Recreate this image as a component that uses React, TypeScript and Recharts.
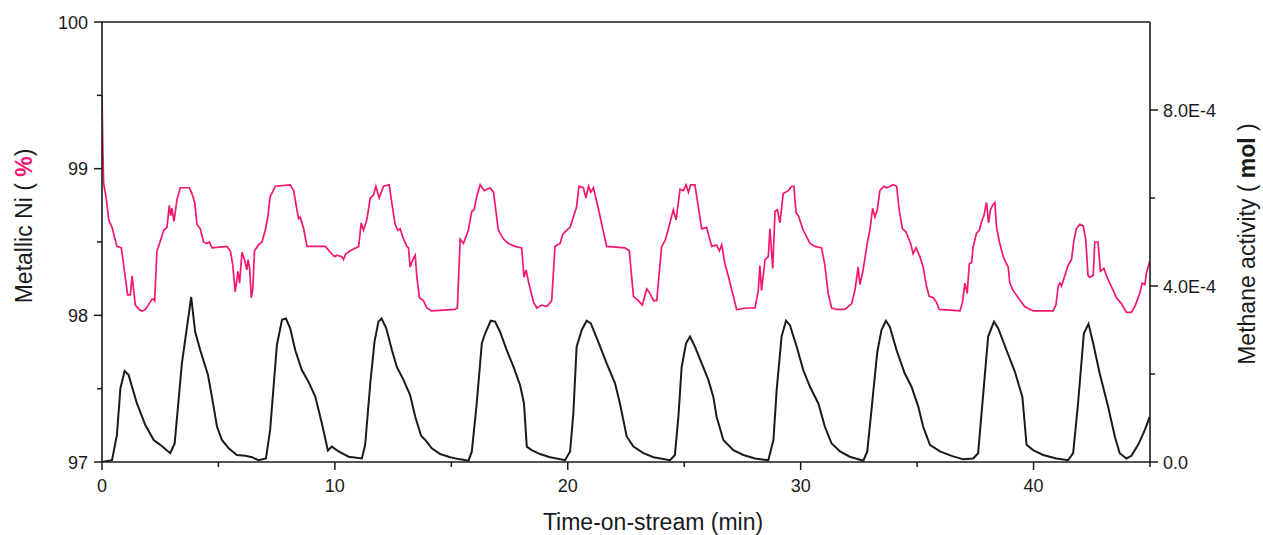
import React from 'react';
import { LineChart, Line, XAxis, YAxis, ReferenceLine } from 'recharts';

// metallic Ni fraction (%) vs time-on-stream (min)
const niTime = [
  0, 0.04, 0.07, 0.18, 0.29, 0.43, 0.64, 0.83, 1.0, 1.1, 1.22, 1.29, 1.34, 1.43, 1.6, 1.72, 1.86, 2.07, 2.15, 2.22,
  2.26, 2.36, 2.43, 2.65, 2.79, 2.89, 2.95, 3.0, 3.09, 3.22, 3.36, 3.75, 3.86, 3.98, 4.08, 4.22, 4.36, 4.5, 4.61, 4.72,
  5.36, 5.51, 5.61, 5.72, 5.84, 5.91, 6.01, 6.12, 6.22, 6.27, 6.34, 6.41, 6.47, 6.55, 6.72, 6.87, 7.01, 7.12, 7.22, 7.32,
  7.44, 8.08, 8.23, 8.37, 8.44, 8.51, 8.66, 8.8, 9.59, 9.8, 9.99, 10.09, 10.3, 10.37, 10.47, 10.66, 11.02, 11.13, 11.23, 11.37,
  11.52, 11.66, 11.76, 11.9, 12.09, 12.33, 12.47, 12.59, 12.7, 12.8, 12.95, 13.09, 13.16, 13.23, 13.35, 13.45, 13.52, 13.63, 13.8, 13.95,
  14.16, 15.16, 15.26, 15.38, 15.52, 15.73, 15.88, 15.98, 16.09, 16.24, 16.41, 16.66, 16.81, 17.02, 17.24, 17.45, 17.74, 18.02, 18.12, 18.21,
  18.31, 18.53, 18.67, 18.88, 19.1, 19.31, 19.45, 19.67, 19.78, 19.88, 20.1, 20.24, 20.38, 20.48, 20.67, 20.78, 20.89, 20.99, 21.1, 21.31,
  21.5, 21.67, 22.46, 22.64, 22.82, 23.03, 23.2, 23.39, 23.53, 23.68, 23.82, 24.03, 24.18, 24.32, 24.53, 24.65, 24.82, 24.96, 25.08, 25.18,
  25.28, 25.46, 25.75, 25.96, 26.18, 26.39, 26.51, 26.61, 26.75, 26.89, 27.11, 27.25, 27.68, 28.04, 28.18, 28.25, 28.32, 28.47, 28.61, 28.68,
  28.8, 28.9, 29.0, 29.11, 29.25, 29.47, 29.61, 29.71, 29.8, 29.9, 30.11, 30.4, 30.61, 30.9, 31.04, 31.18, 31.33, 31.54, 31.9, 32.04,
  32.19, 32.33, 32.47, 32.54, 32.66, 32.86, 32.97, 33.09, 33.19, 33.29, 33.4, 33.57, 33.7, 33.97, 34.12, 34.23, 34.37, 34.52, 34.72, 34.83,
  34.95, 35.12, 35.26, 35.4, 35.52, 35.69, 35.83, 35.95, 36.84, 36.95, 37.05, 37.15, 37.24, 37.34, 37.41, 37.55, 37.67, 37.77, 37.87, 37.98,
  38.07, 38.15, 38.24, 38.34, 38.41, 38.55, 38.7, 38.84, 38.91, 38.98, 39.12, 39.34, 39.62, 39.98, 40.84, 40.96, 41.06, 41.13, 41.2, 41.34,
  41.48, 41.63, 41.73, 41.84, 41.99, 42.13, 42.24, 42.34, 42.41, 42.56, 42.63, 42.77, 42.87, 43.02, 43.13, 43.27, 43.42, 43.56, 43.77, 43.99,
  44.2, 44.35, 44.56, 44.67, 44.78, 44.85, 44.99,
];
const niPct = [
  99.5, 99.1, 98.9, 98.8, 98.65, 98.6, 98.47, 98.46, 98.26, 98.14, 98.14, 98.27, 98.2, 98.07, 98.04, 98.03, 98.04, 98.09, 98.11, 98.11,
  98.1, 98.44, 98.47, 98.58, 98.6, 98.75, 98.68, 98.73, 98.64, 98.79, 98.87, 98.87, 98.83, 98.77, 98.62, 98.59, 98.5, 98.49, 98.5, 98.46,
  98.47, 98.44, 98.35, 98.16, 98.3, 98.22, 98.43, 98.38, 98.31, 98.38, 98.32, 98.12, 98.17, 98.44, 98.48, 98.5, 98.58, 98.67, 98.81, 98.84,
  98.88, 98.89, 98.85, 98.72, 98.66, 98.67, 98.59, 98.47, 98.47, 98.43, 98.4, 98.41, 98.4, 98.38, 98.42, 98.44, 98.47, 98.63, 98.58, 98.65,
  98.8, 98.82, 98.88, 98.8, 98.88, 98.89, 98.74, 98.62, 98.58, 98.59, 98.52, 98.47, 98.46, 98.33, 98.38, 98.41, 98.26, 98.12, 98.1, 98.05,
  98.03, 98.04, 98.05, 98.52, 98.49, 98.58, 98.71, 98.72, 98.81, 98.89, 98.85, 98.87, 98.84, 98.58, 98.52, 98.49, 98.47, 98.46, 98.26, 98.31,
  98.23, 98.09, 98.05, 98.07, 98.06, 98.1, 98.47, 98.49, 98.55, 98.57, 98.6, 98.67, 98.74, 98.88, 98.87, 98.8, 98.88, 98.84, 98.87, 98.73,
  98.59, 98.47, 98.46, 98.44, 98.13, 98.1, 98.07, 98.18, 98.15, 98.1, 98.1, 98.47, 98.51, 98.59, 98.72, 98.65, 98.86, 98.85, 98.89, 98.84,
  98.89, 98.89, 98.59, 98.6, 98.47, 98.48, 98.44, 98.48, 98.35, 98.27, 98.13, 98.04, 98.05, 98.05, 98.17, 98.34, 98.17, 98.38, 98.4, 98.59,
  98.32, 98.71, 98.72, 98.63, 98.83, 98.85, 98.88, 98.88, 98.7, 98.68, 98.58, 98.49, 98.47, 98.46, 98.34, 98.15, 98.05, 98.04, 98.04, 98.06,
  98.08, 98.17, 98.33, 98.21, 98.29, 98.49, 98.58, 98.73, 98.67, 98.72, 98.85, 98.88, 98.87, 98.89, 98.88, 98.72, 98.59, 98.57, 98.49, 98.42,
  98.46, 98.4, 98.33, 98.2, 98.13, 98.12, 98.09, 98.04, 98.03, 98.09, 98.22, 98.15, 98.35, 98.36, 98.47, 98.56, 98.58, 98.64, 98.68, 98.77,
  98.63, 98.72, 98.75, 98.77, 98.6, 98.49, 98.4, 98.35, 98.33, 98.22, 98.17, 98.12, 98.06, 98.03, 98.03, 98.07, 98.2, 98.22, 98.2, 98.27,
  98.34, 98.38, 98.51, 98.59, 98.62, 98.61, 98.52, 98.27, 98.26, 98.27, 98.5, 98.5, 98.3, 98.32, 98.27, 98.22, 98.17, 98.12, 98.08, 98.02,
  98.02, 98.06, 98.15, 98.22, 98.21, 98.29, 98.37,
];

// methane activity, in units of 1E-4 mol
const ch4Time = [
  0, 0.43, 0.64, 0.79, 0.97, 1.14, 1.5, 1.86, 2.22, 2.5, 2.93, 3.12, 3.43, 3.65, 3.83, 4.0, 4.22, 4.55, 4.72, 4.94,
  5.15, 5.44, 5.79, 6.15, 6.44, 6.72, 7.04, 7.22, 7.51, 7.73, 7.9, 8.08, 8.3, 8.58, 8.87, 9.16, 9.44, 9.7, 9.87, 10.16,
  10.59, 11.16, 11.3, 11.52, 11.7, 11.87, 12.0, 12.2, 12.45, 12.66, 12.95, 13.23, 13.45, 13.7, 13.88, 14.16, 14.52, 14.95, 15.38, 15.74,
  15.88, 16.09, 16.31, 16.45, 16.69, 16.88, 17.09, 17.38, 17.67, 17.95, 18.12, 18.24, 18.45, 18.81, 19.24, 19.88, 20.1, 20.24, 20.38, 20.6,
  20.81, 20.99, 21.31, 21.67, 22.03, 22.24, 22.53, 22.82, 23.25, 23.68, 24.39, 24.6, 24.75, 24.89, 25.08, 25.25, 25.46, 25.75, 26.04, 26.25,
  26.39, 26.68, 27.11, 27.54, 28.04, 28.61, 28.83, 28.97, 29.18, 29.37, 29.54, 29.83, 30.11, 30.4, 30.76, 31.04, 31.33, 31.69, 32.11, 32.69,
  32.86, 33.04, 33.29, 33.47, 33.66, 33.83, 34.12, 34.47, 34.76, 35.05, 35.26, 35.55, 35.98, 36.48, 36.98, 37.41, 37.62, 37.84, 38.05, 38.3,
  38.48, 38.84, 39.2, 39.52, 39.7, 39.98, 40.41, 40.98, 41.48, 41.7, 41.91, 42.16, 42.36, 42.56, 42.84, 43.2, 43.49, 43.7, 43.99, 44.2,
  44.49, 44.78, 44.99,
];
const ch4E4 = [
  0, 0.04, 0.61, 1.67, 2.07, 1.98, 1.33, 0.84, 0.5, 0.39, 0.2, 0.42, 2.24, 3.07, 3.75, 2.96, 2.54, 1.98, 1.48, 0.8,
  0.5, 0.31, 0.16, 0.14, 0.11, 0.04, 0.08, 0.73, 2.66, 3.23, 3.26, 3.04, 2.54, 2.09, 1.82, 1.48, 0.88, 0.26, 0.35, 0.24,
  0.12, 0.08, 0.39, 1.79, 2.73, 3.19, 3.26, 3.05, 2.54, 2.16, 1.86, 1.52, 1.03, 0.6, 0.5, 0.31, 0.18, 0.11, 0.06, 0.03,
  0.24, 1.33, 2.7, 2.92, 3.21, 3.19, 2.96, 2.54, 2.16, 1.75, 1.33, 0.35, 0.27, 0.18, 0.11, 0.04, 0.24, 1.11, 2.62, 3.0,
  3.21, 3.15, 2.73, 2.24, 1.79, 1.33, 0.58, 0.35, 0.2, 0.11, 0.04, 0.16, 1.03, 2.16, 2.7, 2.85, 2.62, 2.24, 1.86, 1.48,
  1.03, 0.5, 0.27, 0.16, 0.08, 0.04, 0.5, 1.64, 2.85, 3.21, 3.11, 2.62, 2.09, 1.71, 1.33, 0.8, 0.42, 0.24, 0.12, 0.03,
  0.24, 1.18, 2.5, 3.0, 3.21, 3.07, 2.54, 2.01, 1.71, 1.26, 0.8, 0.39, 0.24, 0.14, 0.06, 0.08, 0.2, 1.56, 2.85, 3.19,
  3.04, 2.54, 2.05, 1.48, 0.39, 0.27, 0.16, 0.08, 0.04, 0.2, 1.33, 2.92, 3.14, 2.7, 2.01, 1.26, 0.58, 0.2, 0.08, 0.14,
  0.39, 0.73, 1.03,
];

const timeTicks = [0, 5, 10, 15, 20, 25, 30, 35, 40, 45];
const niTicks = [97, 97.5, 98, 98.5, 99, 99.5, 100];
const ch4Ticks = [0, 2e-4, 4e-4, 6e-4, 8e-4];

const niData = niTime.map((t, i) => ({ t, ni: niPct[i] }));
const ch4Data = ch4Time.map((t, i) => ({ t, ch4: ch4E4[i] * 1e-4 }));

const PINK = '#f2176f';
const INK = '#1a1a1a';
const FONT = 'Arial, "Liberation Sans", sans-serif';

const W = 1263;
const H = 535;
const LEFT_W = 102;
const RIGHT_W = 113;
const TOP = 22;
const BOTTOM = 73;
const plotLeft = LEFT_W;
const plotRight = W - RIGHT_W;
const plotBottom = H - BOTTOM;

const tickText = { fontFamily: FONT, fontSize: 18, fill: INK };

const LeftTick = (props: any) => {
  const { y, payload } = props;
  const major = Number.isInteger(payload.value);
  return (
    <g>
      <line x1={plotLeft} x2={plotLeft - (major ? 8 : 5)} y1={y} y2={y} stroke={INK} strokeWidth={1.5} />
      {major && (
        <text x={plotLeft - 14} y={y} dy={6.5} textAnchor="end" {...tickText}>
          {payload.value}
        </text>
      )}
    </g>
  );
};

const RightTick = (props: any) => {
  const { y, payload } = props;
  const v = payload.value as number;
  const major = Math.round(v * 1e4) % 4 === 0;
  const label = v === 0 ? '0.0' : `${(v * 1e4).toFixed(1)}E-4`;
  return (
    <g>
      <line x1={plotRight} x2={plotRight + (major ? 8 : 5)} y1={y} y2={y} stroke={INK} strokeWidth={1.5} />
      {major && (
        <text x={plotRight + 13} y={y} dy={6.5} textAnchor="start" {...tickText}>
          {label}
        </text>
      )}
    </g>
  );
};

const BottomTick = (props: any) => {
  const { x, payload } = props;
  const major = payload.value % 10 === 0;
  return (
    <g>
      <line x1={x} x2={x} y1={plotBottom} y2={plotBottom + (major ? 8 : 5)} stroke={INK} strokeWidth={1.5} />
      {major && (
        <text x={x} y={plotBottom + 30} textAnchor="middle" {...tickText}>
          {payload.value}
        </text>
      )}
    </g>
  );
};

const titleText = { fontFamily: FONT, fontSize: 23, fill: INK };

export default function App() {
  return (
    <div style={{ position: 'absolute', left: 0, top: 0, width: W, height: H, background: '#fff' }}>
      <LineChart width={W} height={H} margin={{ top: TOP, right: 0, bottom: BOTTOM - 30, left: 0 }}>
        <XAxis
          type="number"
          dataKey="t"
          domain={[0, 45]}
          ticks={timeTicks}
          interval={0}
          allowDataOverflow
          height={30}
          axisLine={{ stroke: INK, strokeWidth: 1.6 }}
          tickLine={false}
          tick={<BottomTick />}
          label={{
            content: () => (
              <text x={653} y={530} textAnchor="middle" {...titleText}>
                Time-on-stream (min)
              </text>
            ),
          }}
        />
        <YAxis
          yAxisId="left"
          domain={[97, 100]}
          ticks={niTicks}
          interval={0}
          allowDataOverflow
          width={LEFT_W}
          axisLine={{ stroke: INK, strokeWidth: 1.6 }}
          tickLine={false}
          tick={<LeftTick />}
          label={{
            content: () => (
              <text
                x={24}
                y={226}
                textAnchor="middle"
                dominantBaseline="central"
                transform="rotate(-90 24 226)"
                {...titleText}
              >
                Metallic Ni (<tspan fill={PINK} fontWeight="bold"> %</tspan>)
              </text>
            ),
          }}
        />
        <YAxis
          yAxisId="right"
          orientation="right"
          domain={[0, 1e-3]}
          ticks={ch4Ticks}
          interval={0}
          allowDataOverflow
          width={RIGHT_W}
          axisLine={{ stroke: INK, strokeWidth: 1.6 }}
          tickLine={false}
          tick={<RightTick />}
          label={{
            content: () => (
              <text
                x={1247}
                y={244}
                textAnchor="middle"
                dominantBaseline="central"
                transform="rotate(-90 1247 244)"
                {...titleText}
              >
                Methane activity ( <tspan fontWeight="bold">mol</tspan> )
              </text>
            ),
          }}
        />
        <ReferenceLine yAxisId="left" y={100} stroke={INK} strokeWidth={1.6} />
        <Line
          yAxisId="left"
          data={niData}
          dataKey="ni"
          type="linear"
          stroke={PINK}
          strokeWidth={1.7}
          dot={false}
          isAnimationActive={false}
        />
        <Line
          yAxisId="right"
          data={ch4Data}
          dataKey="ch4"
          type="linear"
          stroke={INK}
          strokeWidth={2}
          dot={false}
          isAnimationActive={false}
        />
      </LineChart>
    </div>
  );
}
